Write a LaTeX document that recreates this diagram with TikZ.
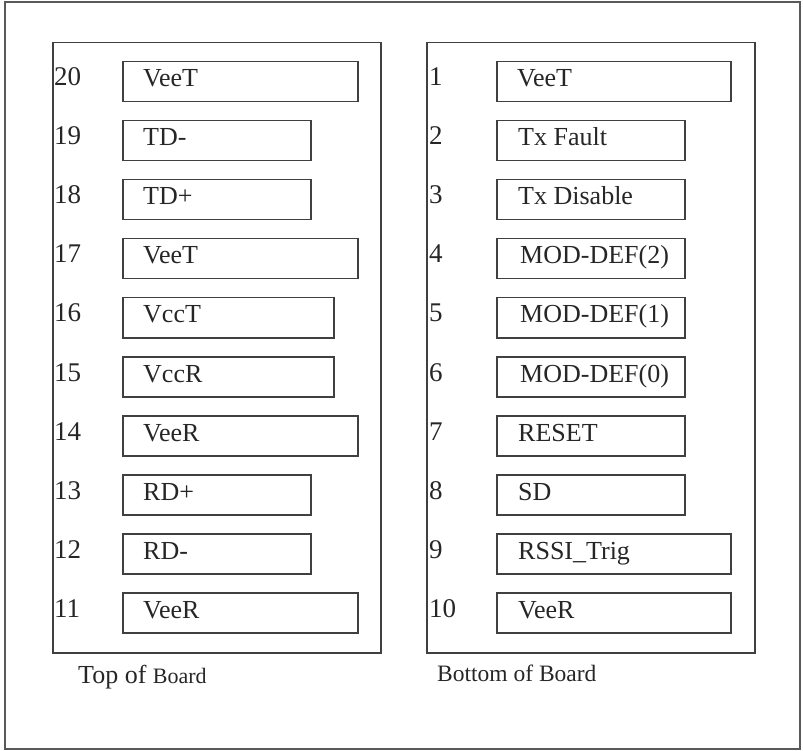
\documentclass[tikz,border=0pt]{standalone}
\usepackage{fontspec}
\setmainfont{Liberation Serif}
\usetikzlibrary{positioning}

\tikzset{
  board/.style={draw=black!75, line width=1.5pt, anchor=north west, inner sep=0pt, minimum width=328pt, minimum height=610pt},
  pinbox/.style={draw=black!75, line width=1.5pt, anchor=north west, inner sep=0pt, minimum height=40pt},
  pintext/.style={anchor=base west, inner sep=0pt, text=black!85, font=\fontsize{26}{28}\selectfont},
  pinnum/.style={anchor=base west, inner sep=0pt, text=black!85, font=\fontsize{27}{28}\selectfont},
}

\begin{document}
\begin{tikzpicture}[x=1pt,y=-1pt]
\useasboundingbox (0,0) rectangle (803,751);
\draw[black!65, line width=1.6pt] (5,2) rectangle (800,749);

% the two sides of the board
\node[board] (top) at (52,42) {};
\node[board] (bottom) at (426,42) {};

% top side, pins 20 down to 11
\foreach \n/\txt/\w/\ins [count=\k from 0] in {20/VeeT/235/21, 19/TD-/188/21, 18/TD+/188/21, 17/VeeT/235/21, 16/VccT/211/21,
    15/VccR/211/21, 14/VeeR/235/21, 13/RD+/188/21, 12/RD-/188/21, 11/VeeR/235/21} {
  \node[pinbox, minimum width=\w pt] (pin\n) at (122,61+59*\k) {};
  \node[pintext] (lbl\n) at ([xshift=\ins pt, yshift=-26pt]pin\n.north west) {\txt};
  \node[pinnum] (num\n) at (54,86+59*\k) {\n};
}

% bottom side, pins 1 to 10
\foreach \n/\txt/\w/\ins [count=\k from 0] in {1/VeeT/234/21, 2/Tx Fault/188/22, 3/Tx Disable/188/22, 4/MOD-DEF(2)/188/24,
    5/MOD-DEF(1)/188/24, 6/MOD-DEF(0)/188/24, 7/RESET/188/22, 8/SD/188/22, 9/RSSI\_Trig/234/22, 10/VeeR/234/22} {
  \node[pinbox, minimum width=\w pt] (pin\n) at (496,61+59*\k) {};
  \node[pintext] (lbl\n) at ([xshift=\ins pt, yshift=-26pt]pin\n.north west) {\txt};
  \node[pinnum] (num\n) at (429,86+59*\k) {\n};
}

\node[anchor=base west, inner sep=0pt, text=black!85] (toplbl) at (78,683) {\fontsize{26}{28}\selectfont Top of \fontsize{22}{24}\selectfont Board};
\node[anchor=base west, inner sep=0pt, text=black!85, font=\fontsize{23.5}{26}\selectfont] (botlbl) at (437,681) {Bottom of Board};
\end{tikzpicture}
\end{document}
